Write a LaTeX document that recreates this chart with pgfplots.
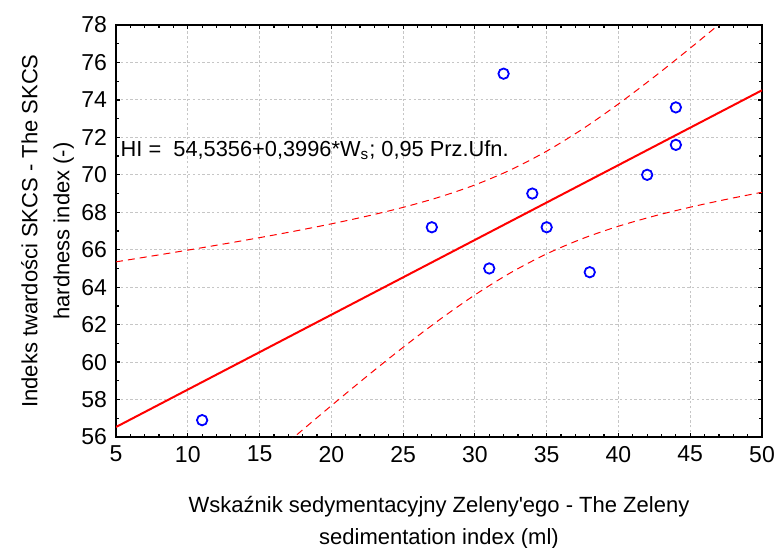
\documentclass[border=0pt]{standalone}
\usepackage{fontspec}
\setmainfont{Liberation Sans}
\usepackage{pgfplots}
\pgfplotsset{compat=1.18}

% measured sample: sedimentation index vs. hardness index
\pgfplotstableread{
x  y
11 56.9
27 67.2
31 65.0
32 75.4
34 69.0
35 67.2
38 64.8
42 70.0
44 73.6
44 71.6
}\samples

% 95% confidence limits of the fitted line
\pgfplotstableread{
x    up     lo
5    65.353 47.715
7.5  65.663 49.403
10   65.979 51.085
12.5 66.306 52.756
15   66.645 54.415
17.5 67.001 56.057
20   67.382 57.674
22.5 67.797 59.257
25   68.263 60.789
27.5 68.806 62.244
30   69.460 63.588
32.5 70.269 64.777
35   71.264 65.780
37.5 72.446 66.596
40   73.785 67.255
42.5 75.236 67.802
45   76.765 68.271
47.5 78.346 68.688
50   79.963 69.069
}\limits

\begin{document}
\begin{tikzpicture}
\begin{axis}[
  scale only axis,
  width=323pt, height=206pt,
  xmin=5, xmax=50, ymin=56, ymax=78,
  xtick={5,10,...,50},
  ytick={56,58,...,78},
  minor x tick num=4,
  minor y tick num=1,
  tick align=inside,
  major tick length=2pt,
  minor tick length=1.6pt,
  axis line style={line width=1pt},
  every tick/.style={black, line width=0.6pt},
  grid=major,
  major grid style={dash pattern=on 1.2pt off 1.2pt, gray!45, line width=0.5pt},
  /pgf/number format/assume math mode=true,
  ticklabel style={font=\fontsize{11.5}{12}\selectfont},
  xticklabel style={yshift=-1pt},
  yticklabel style={xshift=-1pt},
  label style={font=\fontsize{11}{16}\selectfont, align=center},
  xlabel={Wskaźnik sedymentacyjny Zeleny\textquotesingle ego - The Zeleny\\sedimentation index (ml)},
  ylabel={Indeks twardości SKCS - The SKCS\\hardness index (-)},
  xlabel style={at={(axis description cs:0.5,-0.207)}, anchor=center},
  ylabel style={at={(axis description cs:-0.106,0.5)}, anchor=center},
]
\addplot[red, dash pattern=on 3.5pt off 2.5pt, line width=0.5pt, smooth] table[x=x, y=up] {\limits};
\addplot[red, dash pattern=on 3.5pt off 2.5pt, line width=0.5pt, smooth] table[x=x, y=lo] {\limits};
\addplot[red, line width=1pt] coordinates {(5,56.5336) (50,74.5156)};
\addplot[only marks, mark=o, mark size=2.6pt, blue, mark options={line width=0.9pt}] table[x=x, y=y] {\samples};
\node[anchor=west, inner sep=0pt, font=\fontsize{10.9}{12}\selectfont] at (axis cs:5.3,71.3)
  {HI =\ \ 54,5356+0,3996*W\textsubscript{s}; 0,95 Prz.Ufn.};
\coordinate (sw) at (rel axis cs:0,0);
\coordinate (ne) at (rel axis cs:1,1);
\end{axis}
\pgfresetboundingbox
\path (sw) +(-58pt,-55pt) (ne) +(8.5pt,12.5pt);
\end{tikzpicture}
\end{document}
